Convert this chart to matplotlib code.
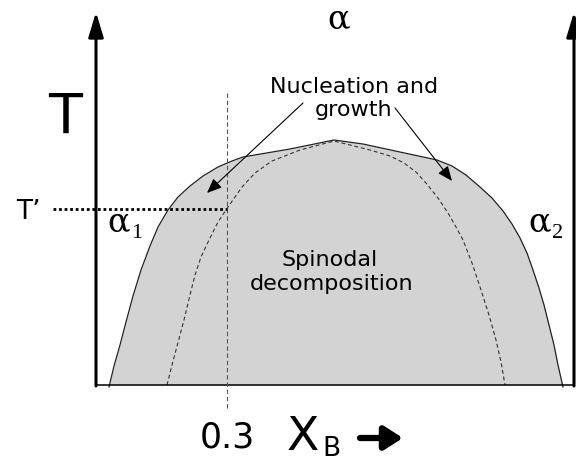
import numpy as np
import matplotlib.pyplot as plt

# diagrama de fases con gap de miscibilidad (coordenadas en px de la figura)

# curva binodal (borde de la zona gris)
bin_x = [109, 114, 120, 126, 133, 141, 150, 158, 168, 178, 190, 203, 218, 232, 243, 290, 334,
	363, 400, 437, 452, 466, 480, 492, 503, 512, 520, 527, 533, 539, 544, 549, 554, 558, 563]
bin_y = [387, 366, 345, 322, 296, 270, 246, 227, 210, 197, 186, 176, 167, 161, 157, 149, 140,
	144, 152, 160, 166, 175, 187, 198, 211, 224, 238, 253, 270, 288, 305, 325, 345, 365, 387]

# curva espinodal (linea discontinua)
spin_x = [167, 172, 176, 180, 184, 190, 195, 201, 209, 218, 228, 242, 255, 272, 300, 334,
	370, 390, 404, 416, 426, 438, 448, 456, 463, 472, 481, 489, 496, 501, 505]
spin_y = [385, 365, 350, 335, 320, 295, 275, 257, 240, 222, 207, 187, 173, 161, 150, 141,
	150, 156, 163, 172, 183, 198, 213, 227, 240, 263, 290, 315, 340, 362, 385]

base_y = 385          # eje de composicion
eje_izq = 96
eje_der = 574
x_03 = 227            # composicion 0.3
T_prima = 209

fig = plt.figure(figsize=(5.76, 4.62), dpi=100)
ax = fig.add_axes([0, 0, 1, 1])
ax.set_xlim(0, 576)
ax.set_ylim(462, 0)
ax.axis("off")

ax.fill_between(bin_x, bin_y, base_y, color="#d3d3d3", lw=0, zorder=1)
ax.plot(bin_x, bin_y, color="#222222", lw=0.9, zorder=3)
ax.plot(spin_x, spin_y, color="#333333", lw=0.8, dashes=(3.5, 2.5), zorder=3)

# ejes
ax.plot([eje_izq, eje_der], [base_y, base_y], color="k", lw=1.1, zorder=4)
for xe in [eje_izq, eje_der]:
	ax.annotate("", xy=(xe, 12), xytext=(xe, base_y + 1),
		arrowprops=dict(arrowstyle="-|>,head_length=0.5,head_width=0.15", lw=2.2,
			color="k", mutation_scale=30, shrinkA=0, shrinkB=0), zorder=5)

# lineas auxiliares
ax.plot([x_03, x_03], [93, 410], color="#555555", lw=0.8, dashes=(4, 2.5), zorder=4)
ax.plot([53, x_03], [T_prima, T_prima], color="k", lw=2.0, dashes=(1, 1),
	dash_capstyle="butt", zorder=4)

# flechas de nucleacion
flechas = [((303, 103), (207, 193)), ((395, 108), (452, 181))]
for ini, fin in flechas:
	ax.annotate("", xy=fin, xytext=ini,
		arrowprops=dict(arrowstyle="-|>,head_length=0.6,head_width=0.25", lw=0.8,
			color="k", mutation_scale=15, shrinkA=0, shrinkB=0), zorder=5)

# textos
ax.text(65, 133, "T", fontsize=40, ha="center", va="baseline", family="DejaVu Sans")
ax.text(28, 219, "T\u2019", fontsize=19, ha="center", va="baseline", family="DejaVu Sans")
ax.text(339, 28, "\u03b1", fontsize=24, ha="center", va="baseline", family="DejaVu Serif")
ax.text(107, 231, "\u03b1", fontsize=24, ha="left", va="baseline", family="DejaVu Serif")
ax.text(131, 238, "1", fontsize=16, ha="left", va="baseline", family="Liberation Serif")
ax.text(528, 231, "\u03b1", fontsize=24, ha="left", va="baseline", family="DejaVu Serif")
ax.text(552, 238, "2", fontsize=16, ha="left", va="baseline", family="Liberation Serif")

ax.text(354, 93, "Nucleation and", fontsize=16, ha="center", va="baseline", family="DejaVu Sans")
ax.text(354, 116, "growth", fontsize=16, ha="center", va="baseline", family="DejaVu Sans")
ax.text(330, 266, "Spinodal", fontsize=16, ha="center", va="baseline", family="DejaVu Sans")
ax.text(332, 290, "decomposition", fontsize=16, ha="center", va="baseline", family="DejaVu Sans")

ax.text(227, 447, "0.3", fontsize=25, ha="center", va="baseline", family="DejaVu Sans")
ax.text(287, 450, "X", fontsize=34, ha="left", va="baseline", family="DejaVu Sans")
ax.text(322, 456, "B", fontsize=19, ha="left", va="baseline", family="DejaVu Sans")
ax.annotate("", xy=(403, 438), xytext=(360, 438),
	arrowprops=dict(arrowstyle="-|>,head_length=0.55,head_width=0.35", lw=4.5,
		color="k", mutation_scale=20, shrinkA=0, shrinkB=0))

plt.savefig("out.png", dpi=100)
